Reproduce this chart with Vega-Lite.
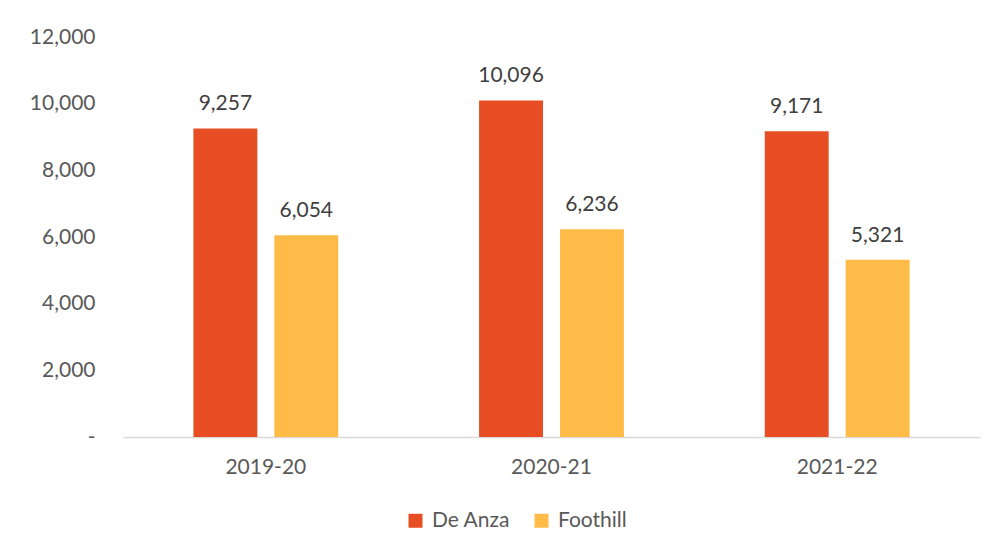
{
  "$schema": "https://vega.github.io/schema/vega-lite/v6.json",
  "autosize": {"type": "none"},
  "padding": {"left": 123, "top": 37, "right": 18, "bottom": 118},
  "width": 857,
  "height": 400,
  "background": "white",
  "config": {
    "view": {"stroke": null},
    "font": "Lato",
    "axis": {"labelFont": "Lato", "labelColor": "#595959", "labelFontSize": 21, "grid": false, "ticks": false}
  },
  "data": {
    "values": [
      {"year": "2019-20", "college": "De Anza", "value": 9257},
      {"year": "2019-20", "college": "Foothill", "value": 6054},
      {"year": "2020-21", "college": "De Anza", "value": 10096},
      {"year": "2020-21", "college": "Foothill", "value": 6236},
      {"year": "2021-22", "college": "De Anza", "value": 9171},
      {"year": "2021-22", "college": "Foothill", "value": 5321}
    ]
  },
  "encoding": {
    "x": {
      "field": "year", "type": "nominal",
      "scale": {"paddingInner": 0.493, "paddingOuter": 0.2465},
      "axis": {"title": null, "labelAngle": 0, "labelPadding": 19, "domainColor": "#D9D9D9", "domainWidth": 1.5}
    },
    "xOffset": {"field": "college", "type": "nominal", "scale": {"paddingInner": 0.21, "paddingOuter": 0}},
    "y": {
      "field": "value", "type": "quantitative",
      "scale": {"domain": [0, 12000], "nice": false},
      "axis": {"title": null, "domain": false, "values": [0, 2000, 4000, 6000, 8000, 10000, 12000], "labelPadding": 28,
        "labelExpr": "datum.value == 0 ? '-\u00a0\u00a0\u00a0' : format(datum.value, ',')"}
    }
  },
  "layer": [
    {
      "mark": {"type": "bar"},
      "encoding": {
        "color": {
          "field": "college", "type": "nominal",
          "scale": {"domain": ["De Anza", "Foothill"], "range": ["#E84E23", "#FFBB47"]},
          "legend": {"title": null, "orient": "none", "direction": "horizontal", "legendX": 282, "legendY": 473,
            "symbolType": "square", "symbolSize": 196, "symbolStrokeWidth": 0, "labelFontSize": 21, "labelColor": "#595959",
            "labelFont": "Lato", "columnPadding": 20, "labelOffset": 6}
        }
      }
    },
    {
      "mark": {"type": "text", "dy": -18, "baseline": "alphabetic", "fontSize": 21, "color": "#404040", "font": "Lato"},
      "encoding": {"text": {"field": "value", "type": "quantitative", "format": ","}}
    }
  ]
}
